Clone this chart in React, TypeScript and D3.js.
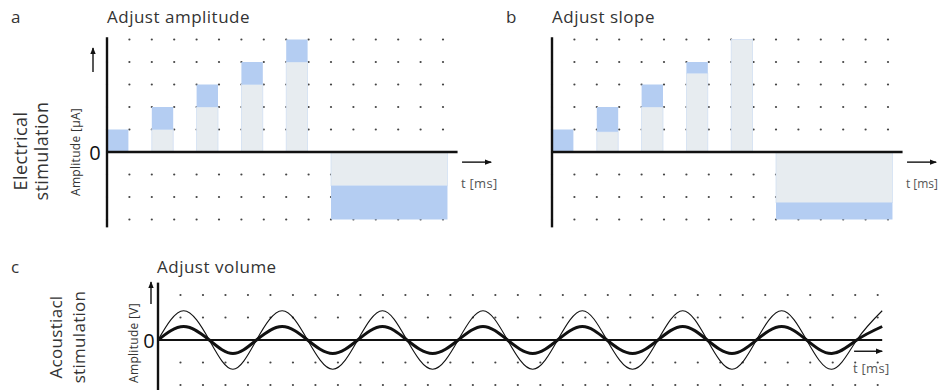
import { useEffect, useRef } from 'react';
import * as d3 from 'd3';

// pulse trains (units = grid steps)
const pulseStarts = [0, 2, 4, 6, 8];
const pulseWidth = 1;
const amplitudeBase = [0, 1, 2, 3, 4];
const amplitudeTop = [1, 2, 3, 4, 5];
const slopeBase = [0, 0.9, 2, 3.5, 5];
const slopeTop = [1, 2, 3, 4, 5];
const negativeSpan = [10, 15.2];
const amplitudeNegative = [-1.5, -3];
const slopeNegative = [-2.25, -3];

// sound wave: zero crossings and extremes
const waveTimes = [
  0, 1.14, 2.28, 3.33, 4.38, 5.52, 6.65, 7.77, 8.88, 9.98, 11.07, 12.21, 13.35, 14.45, 15.54,
  16.66, 17.77, 18.87, 19.96, 21.1, 22.23, 23.33, 24.42, 25.52, 26.61, 27.73, 28.84, 29.96, 31.07,
  32.2,
];
const loudWave = [
  0, 1.3, 0, -1.3, 0, 1.3, 0, -1.3, 0, 1.3, 0, -1.3, 0, 1.3, 0, -1.3, 0, 1.3, 0, -1.3, 0, 1.3, 0,
  -1.3, 0, 1.3, 0, -1.3, 0, 1.3,
];
const quietWave = [
  0, 0.6, 0, -0.6, 0, 0.6, 0, -0.6, 0, 0.6, 0, -0.6, 0, 0.6, 0, -0.6, 0, 0.6, 0, -0.6, 0, 0.6, 0,
  -0.6, 0, 0.6, 0, -0.6, 0, 0.6,
];

export default function App() {
  const ref = useRef<SVGSVGElement>(null);

  useEffect(() => {
    if (!ref.current) return;
    const svg = d3.select(ref.current);
    svg.selectAll('*').remove();
    svg.attr('width', 941).attr('height', 390);

    const font = "'Open Sans', sans-serif";
    const blue = '#b4cdf2';
    const grey = '#e7ecf0';
    const ink = '#111';
    const textColor = '#333';

    const defs = svg.append('defs');
    defs
      .append('marker')
      .attr('id', 'arrow')
      .attr('viewBox', '0 0 10 10')
      .attr('refX', 9)
      .attr('refY', 5)
      .attr('markerUnits', 'userSpaceOnUse')
      .attr('markerWidth', 7)
      .attr('markerHeight', 7)
      .attr('orient', 'auto')
      .append('path')
      .attr('d', 'M0,1 L10,5 L0,9 Z')
      .attr('fill', ink);

    const arrow = (x1: number, y1: number, x2: number, y2: number) =>
      svg
        .append('line')
        .attr('x1', x1)
        .attr('y1', y1)
        .attr('x2', x2)
        .attr('y2', y2)
        .attr('stroke', ink)
        .attr('stroke-width', 1.4)
        .attr('marker-end', 'url(#arrow)');

    const label = (x: number, y: number, t: string, size: number, color = textColor, spacing = 0) =>
      svg
        .append('text')
        .attr('x', x)
        .attr('y', y)
        .attr('font-family', font)
        .attr('font-size', size)
        .attr('letter-spacing', spacing)
        .attr('fill', color)
        .text(t);

    const rotated = (x: number, y: number, t: string, size: number, spacing = 0) =>
      svg
        .append('text')
        .attr('transform', `translate(${x},${y}) rotate(-90)`)
        .attr('text-anchor', 'middle')
        .attr('font-family', font)
        .attr('font-size', size)
        .attr('letter-spacing', spacing)
        .attr('fill', textColor)
        .text(t);

    // ---- panels a and b ----
    const pulsePanel = (
      x0: number,
      base: number[],
      top: number[],
      neg: number[],
      unitSize: number,
      unitSpacing: number,
    ) => {
      const x = d3.scaleLinear().domain([0, 15]).range([x0, x0 + 336]);
      const y = d3.scaleLinear().domain([-3, 5]).range([219.5, 39.5]);
      const g = svg.append('g');

      const grid: [number, number][] = [];
      d3.range(0, 16).forEach((c) => d3.range(-3, 6).forEach((r) => grid.push([c, r])));
      g.selectAll('circle')
        .data(grid)
        .enter()
        .append('circle')
        .attr('cx', (d) => x(d[0]))
        .attr('cy', (d) => y(d[1]))
        .attr('r', 1.1)
        .attr('fill', '#444');

      // grey part (previous level)
      g.selectAll('rect.base')
        .data(pulseStarts)
        .enter()
        .append('rect')
        .attr('x', (d) => x(d))
        .attr('width', x(pulseWidth) - x(0) - 1)
        .attr('y', (_, i) => y(base[i]))
        .attr('height', (_, i) => y(0) - y(base[i]))
        .attr('fill', grey)
        .attr('stroke', '#d3e0f3')
        .attr('stroke-width', 0.8);
      // blue part (adjustment)
      g.selectAll('rect.top')
        .data(pulseStarts)
        .enter()
        .append('rect')
        .attr('x', (d) => x(d))
        .attr('width', x(pulseWidth) - x(0) - 1)
        .attr('y', (_, i) => y(top[i]))
        .attr('height', (_, i) => Math.max(0, y(base[i]) - y(top[i])))
        .attr('fill', blue);

      // negative phase
      g.append('rect')
        .attr('x', x(negativeSpan[0]))
        .attr('width', x(negativeSpan[1]) - x(negativeSpan[0]))
        .attr('y', y(0))
        .attr('height', y(neg[0]) - y(0))
        .attr('fill', grey)
        .attr('stroke', '#d3e0f3')
        .attr('stroke-width', 0.8);
      g.append('rect')
        .attr('x', x(negativeSpan[0]))
        .attr('width', x(negativeSpan[1]) - x(negativeSpan[0]))
        .attr('y', y(neg[0]))
        .attr('height', y(neg[1]) - y(neg[0]))
        .attr('fill', blue);

      // axes
      g.append('line')
        .attr('x1', x(0))
        .attr('x2', x(0))
        .attr('y1', y(5.1))
        .attr('y2', y(-3.35))
        .attr('stroke', ink)
        .attr('stroke-width', 2.4);
      g.append('line')
        .attr('x1', x(0))
        .attr('x2', x(15.65))
        .attr('y1', y(0))
        .attr('y2', y(0))
        .attr('stroke', ink)
        .attr('stroke-width', 2.4);

      arrow(x(15.85), y(-0.45), x(17.15), y(-0.45));
      label(x(15.8), y(-1.6), 't [ms]', unitSize, '#555', unitSpacing);
      return { x, y };
    };

    pulsePanel(107, amplitudeBase, amplitudeTop, amplitudeNegative, 13, 0.3);
    pulsePanel(552, slopeBase, slopeTop, slopeNegative, 12, 0);

    label(11, 23, 'a', 17);
    label(107, 23, 'Adjust amplitude', 17, textColor, 0.5);
    label(506, 23, 'b', 17);
    label(552, 23, 'Adjust slope', 17, textColor, 0.5);

    arrow(93, 72, 93, 48);
    label(95, 152, '0', 20, ink).attr('text-anchor', 'middle').attr('dominant-baseline', 'central');
    rotated(80, 152, 'Amplitude [μA]', 12, 0.3);
    rotated(27, 151, 'Electrical', 18, 0.4);
    rotated(48, 151, 'stimulation', 18, 0.4);

    // ---- panel c ----
    const xc = d3.scaleLinear().domain([0, 32]).range([158, 877.7]);
    const yc = d3.scaleLinear().domain([-2, 2]).range([385, 295]);
    const gc = svg.append('g');
    const gridC: [number, number][] = [];
    d3.range(1, 33).forEach((c) => d3.range(-2, 3).forEach((r) => gridC.push([c, r])));
    gc.selectAll('circle')
      .data(gridC)
      .enter()
      .append('circle')
      .attr('cx', (d) => xc(d[0]))
      .attr('cy', (d) => yc(d[1]))
      .attr('r', 1.1)
      .attr('fill', '#444');

    gc.append('line')
      .attr('x1', xc(0))
      .attr('x2', xc(32.2))
      .attr('y1', yc(0))
      .attr('y2', yc(0))
      .attr('stroke', ink)
      .attr('stroke-width', 2.2);
    gc.append('line')
      .attr('x1', xc(0))
      .attr('x2', xc(0))
      .attr('y1', yc(2.55))
      .attr('y2', 390)
      .attr('stroke', ink)
      .attr('stroke-width', 2.4);

    const wave = (vals: number[]) =>
      d3
        .line<number>()
        .x((_, i) => xc(waveTimes[i]))
        .y((d) => yc(d))
        .curve(d3.curveNatural)(vals);

    gc.append('path')
      .attr('d', wave(loudWave))
      .attr('fill', 'none')
      .attr('stroke', ink)
      .attr('stroke-width', 1.1);
    gc.append('path')
      .attr('d', wave(quietWave))
      .attr('fill', 'none')
      .attr('stroke', ink)
      .attr('stroke-width', 3);

    arrow(xc(30.95), yc(-0.5), xc(32.2), yc(-0.5));
    label(xc(30.9), 373, 't [ms]', 13, '#555', 0.3);

    label(11, 273, 'c', 17);
    label(157, 273, 'Adjust volume', 17, textColor, 0.5);
    arrow(151, 304, 151, 282);
    label(149, 340, '0', 20, ink).attr('text-anchor', 'middle').attr('dominant-baseline', 'central');
    rotated(138, 343, 'Amplitude [V]', 12, 0.3);
    rotated(62, 337, 'Acoustiacl', 17, 0.3);
    rotated(85, 337, 'stimulation', 17, 0.3);
  }, []);

  return <svg ref={ref} style={{ position: 'absolute', left: 0, top: 0 }} />;
}
